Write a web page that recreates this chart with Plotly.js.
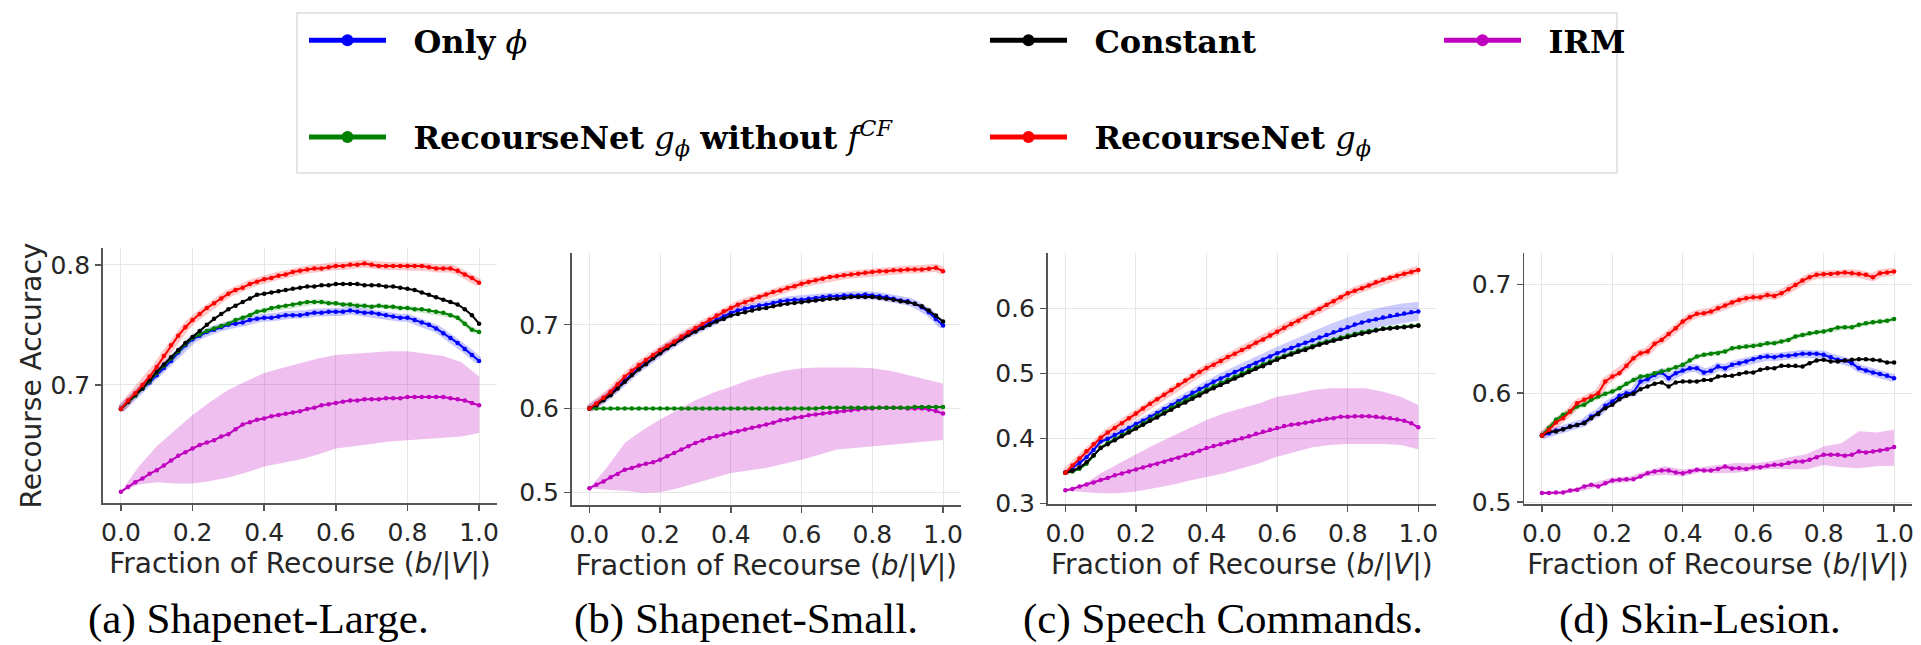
<!DOCTYPE html>
<html><head><meta charset="utf-8">
<script src="https://cdn.plot.ly/plotly-3.0.1.min.js"></script>
<style>html,body{margin:0;padding:0;background:#fff;} #chart{width:1921px;height:645px;}</style>
</head><body><div id="chart"></div>
<script>
// ---------- data ----------
const fractions = [0,0.02,0.04,0.06,0.08,0.1,0.12,0.14,0.16,0.18,0.2,0.22,0.24,0.26,0.28,0.3,0.32,0.34,0.36,0.38,0.4,0.42,0.44,0.46,0.48,0.5,0.52,0.54,0.56,0.58,0.6,0.62,0.64,0.66,0.68,0.7,0.72,0.74,0.76,0.78,0.8,0.82,0.84,0.86,0.88,0.9,0.92,0.94,0.96,0.98,1.0];
const bandFractions = [0,0.05,0.1,0.15,0.2,0.25,0.3,0.35,0.4,0.45,0.5,0.55,0.6,0.65,0.7,0.75,0.8,0.85,0.9,0.95,1.0];
const xTickVals = [0,0.2,0.4,0.6,0.8,1.0];
const xTickText = ['0.0','0.2','0.4','0.6','0.8','1.0'];
const seriesNames = ['<b>Only</b> <i>ϕ</i>','<b>Constant</b>','<b>IRM</b>','<b>RecourseNet</b> <i>g</i><sub><i>ϕ</i></sub> <b>without</b> <i>f</i><sup><i>CF</i></sup>','<b>RecourseNet</b> <i>g</i><sub><i>ϕ</i></sub>'];
const captions = ['(a) Shapenet-Large.','(b) Shapenet-Small.','(c) Speech Commands.','(d) Skin-Lesion.'];
const xAxisTitle = 'Fraction of Recourse (<i>b</i>/|<i>V</i>|)';
const yAxisTitle = 'Recourse Accuracy';

// (a) Shapenet-Large
const s1OnlyPhi = [.680,.686,.691,.697,.702,.708,.714,.720,.727,.733,.738,.741,.744,.746,.748,.750,.751,.752,.754,.755,.756,.756,.757,.758,.758,.758,.759,.760,.760,.761,.761,.761,.762,.761,.760,.760,.759,.758,.757,.756,.756,.754,.752,.750,.747,.743,.739,.735,.730,.725,.720];
const s1Constant = [.680,.686,.692,.697,.704,.711,.717,.723,.729,.735,.740,.745,.750,.755,.759,.763,.766,.769,.772,.775,.776,.777,.778,.779,.780,.781,.782,.782,.783,.783,.784,.784,.784,.784,.783,.783,.783,.782,.782,.781,.780,.779,.777,.775,.773,.771,.769,.767,.763,.758,.751];
const s1IRM = [.611,.615,.619,.622,.626,.629,.633,.637,.641,.644,.647,.650,.652,.654,.657,.659,.663,.667,.669,.671,.672,.674,.675,.676,.677,.678,.680,.681,.683,.684,.685,.686,.687,.687,.688,.688,.688,.689,.689,.689,.690,.690,.690,.690,.690,.690,.689,.688,.687,.685,.683];
const s1NoCF = [.680,.686,.691,.697,.703,.710,.716,.722,.728,.734,.739,.742,.745,.747,.749,.751,.754,.756,.758,.761,.762,.764,.765,.766,.767,.768,.769,.769,.769,.768,.768,.767,.767,.766,.766,.765,.766,.765,.765,.764,.764,.763,.763,.762,.761,.760,.758,.756,.751,.746,.744];
const s1RecNet = [.680,.687,.693,.700,.707,.715,.724,.733,.741,.748,.754,.759,.764,.768,.772,.776,.779,.781,.784,.786,.788,.789,.791,.792,.794,.795,.796,.797,.797,.798,.799,.799,.800,.800,.801,.800,.799,.799,.799,.799,.799,.799,.799,.798,.797,.797,.797,.795,.792,.789,.785];
const s1IRMUpper = [.611,.632,.649,.662,.675,.686,.696,.703,.710,.714,.718,.722,.725,.726,.727,.728,.728,.726,.724,.719,.707];
const s1IRMLower = [.611,.617,.619,.618,.618,.620,.623,.627,.632,.635,.638,.642,.647,.649,.651,.653,.654,.655,.656,.657,.660];

// (b) Shapenet-Small
const s2OnlyPhi = [.600,.605,.611,.618,.626,.634,.641,.648,.654,.661,.667,.673,.678,.684,.689,.693,.698,.702,.706,.710,.714,.717,.719,.721,.723,.724,.726,.728,.729,.730,.730,.731,.732,.733,.734,.734,.735,.735,.735,.736,.735,.734,.733,.731,.729,.728,.725,.721,.715,.707,.699];
const s2Constant = [.600,.604,.610,.616,.624,.632,.640,.647,.653,.660,.666,.672,.677,.683,.688,.692,.696,.700,.704,.707,.711,.713,.715,.717,.719,.720,.722,.724,.725,.726,.727,.728,.729,.730,.731,.731,.732,.733,.733,.733,.733,.732,.731,.730,.728,.727,.725,.722,.717,.711,.704];
const s2IRM = [.505,.509,.513,.518,.522,.527,.529,.532,.534,.536,.539,.543,.547,.551,.555,.559,.562,.565,.567,.569,.571,.573,.575,.577,.579,.581,.583,.586,.587,.589,.590,.592,.593,.594,.595,.596,.597,.598,.599,.600,.600,.601,.601,.601,.601,.600,.600,.600,.599,.597,.594];
const s2NoCF = [.600,.600,.600,.600,.600,.600,.600,.600,.600,.600,.600,.600,.600,.600,.600,.600,.600,.600,.600,.600,.600,.600,.600,.600,.600,.600,.600,.600,.600,.600,.600,.600,.600,.601,.601,.601,.601,.601,.601,.601,.601,.601,.601,.601,.601,.601,.602,.602,.602,.602,.602];
const s2RecNet = [.600,.606,.613,.620,.629,.638,.645,.652,.658,.664,.670,.675,.680,.686,.691,.696,.701,.706,.711,.716,.720,.724,.727,.730,.733,.736,.739,.741,.744,.746,.749,.751,.753,.755,.757,.758,.759,.760,.761,.762,.763,.764,.764,.765,.765,.766,.766,.766,.767,.768,.764];
const s2IRMUpper = [.505,.530,.559,.574,.587,.599,.610,.619,.626,.634,.640,.645,.648,.649,.649,.649,.648,.645,.640,.635,.630];
const s2IRMLower = [.505,.503,.502,.4995,.500,.505,.511,.517,.523,.526,.529,.534,.539,.545,.551,.553,.555,.557,.559,.561,.5625];

// (c) Speech Commands
const s3OnlyPhi = [.347,.354,.362,.371,.382,.395,.399,.405,.410,.416,.422,.427,.433,.439,.445,.451,.457,.463,.470,.476,.481,.487,.492,.497,.502,.506,.511,.516,.521,.526,.531,.535,.539,.543,.547,.551,.555,.559,.563,.567,.571,.575,.578,.581,.583,.586,.588,.590,.592,.594,.595];
const s3Constant = [.347,.350,.355,.363,.374,.385,.391,.397,.403,.409,.415,.421,.427,.432,.438,.444,.450,.455,.461,.466,.472,.477,.482,.487,.492,.497,.502,.507,.511,.516,.521,.525,.529,.533,.536,.540,.544,.547,.550,.553,.556,.559,.561,.563,.566,.568,.569,.570,.571,.572,.573];
const s3IRM = [.320,.322,.326,.329,.332,.336,.339,.343,.346,.349,.352,.355,.358,.361,.364,.367,.370,.374,.377,.381,.385,.388,.391,.394,.397,.400,.403,.407,.410,.413,.416,.419,.421,.422,.424,.426,.428,.430,.431,.433,.433,.434,.434,.434,.433,.432,.431,.429,.427,.423,.417];
const s3NoCF = [.347,.349,.353,.361,.373,.386,.393,.399,.405,.411,.417,.423,.429,.435,.441,.447,.453,.458,.464,.469,.475,.480,.485,.490,.495,.500,.505,.509,.514,.518,.523,.527,.531,.535,.538,.542,.546,.549,.552,.555,.558,.561,.563,.565,.567,.569,.570,.571,.572,.573,.574];
const s3RecNet = [.347,.358,.369,.380,.391,.401,.409,.416,.423,.431,.438,.446,.453,.460,.467,.474,.482,.489,.496,.502,.508,.513,.519,.525,.530,.536,.541,.547,.552,.558,.564,.570,.576,.581,.587,.593,.599,.605,.611,.617,.623,.627,.631,.635,.640,.644,.647,.650,.653,.656,.659];
const s3IRMUpper = [.3195,.328,.3462,.3605,.3744,.3897,.4026,.4154,.4282,.4385,.4462,.4538,.4641,.4682,.4744,.4769,.4769,.4769,.4718,.4641,.4513];
const s3IRMLower = [.3195,.318,.3154,.3154,.318,.323,.3282,.3349,.341,.3462,.3538,.3615,.3718,.3795,.3862,.3897,.3913,.3913,.3913,.3897,.3831];
const s3OnlyPhiUpper = [.349,.370,.399,.413,.427,.442,.458,.474,.489,.503,.515,.528,.541,.553,.564,.576,.586,.595,.602,.607,.610];
const s3OnlyPhiLower = [.345,.363,.391,.403,.416,.430,.445,.460,.473,.487,.498,.509,.521,.530,.540,.549,.557,.566,.572,.577,.581];

// (d) Skin-Lesion
const s4OnlyPhi = [.5612,.5633,.5657,.5670,.5694,.5709,.5731,.5786,.5817,.5884,.5924,.5976,.6000,.6006,.6107,.6128,.6168,.6190,.6138,.6183,.6208,.6229,.6229,.6190,.6205,.6245,.6229,.6260,.6275,.6291,.6312,.6330,.6336,.6330,.6343,.6343,.6352,.6361,.6361,.6361,.6352,.6330,.6306,.6300,.6275,.6229,.6208,.6190,.6177,.6159,.6138];
const s4Constant = [.5612,.5648,.5648,.5670,.5694,.5709,.5725,.5771,.5810,.5862,.5893,.5945,.5976,.5994,.6037,.6061,.6086,.6098,.6061,.6098,.6107,.6107,.6107,.6122,.6122,.6153,.6159,.6159,.6177,.6190,.6190,.6214,.6229,.6229,.6251,.6251,.6251,.6245,.6275,.6300,.6306,.6291,.6291,.6300,.6306,.6312,.6312,.6306,.6300,.6281,.6281];
const s4IRM = [.5083,.5083,.5089,.5089,.5107,.5113,.5144,.5159,.5144,.5174,.5199,.5205,.5211,.5211,.5235,.5266,.5281,.5291,.5291,.5272,.5266,.5281,.5297,.5291,.5291,.5303,.5327,.5309,.5312,.5303,.5321,.5321,.5333,.5343,.5343,.5358,.5373,.5373,.5388,.5413,.5434,.5434,.5434,.5425,.5434,.5465,.5456,.5465,.5474,.5486,.5505];
const s4NoCF = [.5612,.5680,.5755,.5801,.5832,.5878,.5893,.5939,.5969,.5994,.6015,.6046,.6086,.6122,.6153,.6159,.6183,.6199,.6214,.6239,.6260,.6300,.6336,.6352,.6361,.6367,.6382,.6413,.6422,.6428,.6434,.6443,.6459,.6459,.6474,.6489,.6520,.6535,.6550,.6559,.6566,.6581,.6602,.6606,.6606,.6627,.6642,.6651,.6657,.6664,.6682];
const s4RecNet = [.5612,.5664,.5731,.5771,.5832,.5908,.5939,.5969,.6000,.6107,.6153,.6183,.6251,.6321,.6367,.6382,.6453,.6489,.6544,.6596,.6657,.6697,.6728,.6734,.6749,.6780,.6804,.6832,.6856,.6872,.6881,.6881,.6902,.6893,.6917,.6954,.6994,.7034,.7064,.7086,.7092,.7095,.7101,.7107,.7101,.7095,.7086,.7064,.7101,.7107,.7116];
const s4IRMUpper = [.5095,.5100,.5135,.5180,.5225,.5235,.5290,.5330,.5300,.5320,.5340,.5360,.5355,.5375,.5410,.5440,.5510,.5540,.5650,.5640,.5665];
const s4IRMLower = [.5070,.5075,.5090,.5130,.5170,.5185,.5240,.5250,.5235,.5275,.5265,.5270,.5285,.5305,.5305,.5300,.5340,.5320,.5310,.5330,.5335];

// ---------- style ----------
const colors = {onlyPhi:'#0000ff', constant:'#000000', irm:'#bf00bf', noCF:'#008000', recNet:'#ff0000'};
const bandColors = {onlyPhi:'rgba(0,0,255,0.2)', irm:'rgba(191,0,191,0.25)'};
const haloColors = {onlyPhi:'rgba(0,0,255,0.22)', noCF:'rgba(0,128,0,0.18)', recNet:'rgba(255,0,0,0.22)'};
const legendTextPad = '\u2002\u2009';

const panels = [
  {x:'x', y:'y', onlyPhi:s1OnlyPhi, constant:s1Constant, irm:s1IRM, noCF:s1NoCF, recNet:s1RecNet,
   bands:[{key:'irm', up:s1IRMUpper, lo:s1IRMLower}], halos:['onlyPhi','noCF','recNet']},
  {x:'x2', y:'y2', onlyPhi:s2OnlyPhi, constant:s2Constant, irm:s2IRM, noCF:s2NoCF, recNet:s2RecNet,
   bands:[{key:'irm', up:s2IRMUpper, lo:s2IRMLower}], halos:['onlyPhi','recNet']},
  {x:'x3', y:'y3', onlyPhi:s3OnlyPhi, constant:s3Constant, irm:s3IRM, noCF:s3NoCF, recNet:s3RecNet,
   bands:[{key:'irm', up:s3IRMUpper, lo:s3IRMLower},{key:'onlyPhi', up:s3OnlyPhiUpper, lo:s3OnlyPhiLower}], halos:['recNet']},
  {x:'x4', y:'y4', onlyPhi:s4OnlyPhi, constant:s4Constant, irm:s4IRM, noCF:s4NoCF, recNet:s4RecNet,
   bands:[{key:'irm', up:s4IRMUpper, lo:s4IRMLower}], halos:['onlyPhi','noCF','recNet']}
];

const seriesOrder = [
  {key:'irm', name:seriesNames[2], legend:'legend3'},
  {key:'onlyPhi', name:seriesNames[0], legend:'legend'},
  {key:'noCF', name:seriesNames[3], legend:'legend'},
  {key:'constant', name:seriesNames[1], legend:'legend2'},
  {key:'recNet', name:seriesNames[4], legend:'legend2'}
];
const legendRank = {onlyPhi:1, noCF:2, constant:1, recNet:2, irm:1};

const traces = [];
panels.forEach((p, pi) => {
  p.bands.forEach(b => {
    traces.push({type:'scatter', mode:'lines', x:bandFractions, y:b.lo, xaxis:p.x, yaxis:p.y,
      line:{width:0, color:bandColors[b.key]}, showlegend:false, hoverinfo:'skip'});
    traces.push({type:'scatter', mode:'lines', x:bandFractions, y:b.up, xaxis:p.x, yaxis:p.y,
      line:{width:0, color:bandColors[b.key]}, fill:'tonexty', fillcolor:bandColors[b.key], showlegend:false, hoverinfo:'skip'});
  });
  p.halos.forEach(k => {
    traces.push({type:'scatter', mode:'lines', x:fractions, y:p[k], xaxis:p.x, yaxis:p.y,
      line:{width:k==='noCF'?5:8, color:haloColors[k]}, showlegend:false, hoverinfo:'skip'});
  });
});
panels.forEach((p, pi) => {
  seriesOrder.forEach(s => {
    traces.push({type:'scatter', mode:'lines+markers', x:fractions, y:p[s.key], xaxis:p.x, yaxis:p.y,
      name:legendTextPad + s.name, legend:s.legend, legendgroup:s.key, legendrank:legendRank[s.key],
      showlegend: pi===0,
      line:{color:colors[s.key], width:2}, marker:{color:colors[s.key], size:4.5}, hoverinfo:'skip'});
  });
});

// ---------- layout ----------
const W = 1921, H = 645;
const px = v => v / W;
const py = v => 1 - v / H;
const tickFont = {family:'DejaVu Sans', size:25, color:'#262626'};
function xAx(l, r, anchor){
  return {domain:[px(l), px(r)], anchor:anchor, range:[-0.05, 1.05], tickmode:'array', tickvals:xTickVals, ticktext:xTickText,
    showline:true, linecolor:'#555', linewidth:1.8, ticks:'outside', ticklen:6, tickwidth:1.4, tickcolor:'#555',
    showgrid:true, gridcolor:'#e6e6e6', gridwidth:1, zeroline:false, tickfont:tickFont, fixedrange:true,
    title:{text:xAxisTitle, font:{family:'DejaVu Sans', size:28, color:'#262626'}, standoff:0}};
}
function yAx(b, t, anchor, range, withTitle){
  const a = {domain:[py(b), py(t)], anchor:anchor, range:range, dtick:0.1, tick0:0, tickformat:'.1f',
    showline:true, linecolor:'#555', linewidth:1.8, ticks:'outside', ticklen:6, tickwidth:1.4, tickcolor:'#555',
    showgrid:true, gridcolor:'#e6e6e6', gridwidth:1, zeroline:false, tickfont:tickFont, fixedrange:true};
  if (withTitle) a.title = {text:yAxisTitle, font:{family:'DejaVu Sans', size:28, color:'#262626'}, standoff:1};
  return a;
}
const legendBase = {orientation:'v', xanchor:'left', yanchor:'top', y:py(13), bgcolor:'rgba(0,0,0,0)', borderwidth:0,
  font:{family:'DejaVu Serif', size:32, color:'#000'}, itemwidth:77, tracegroupgap:52, itemsizing:'constant',
  itemclick:false, itemdoubleclick:false, traceorder:'grouped'};

const layout = {
  width:W, height:H, margin:{l:0, r:0, t:0, b:0}, paper_bgcolor:'#fff', plot_bgcolor:'#fff',
  font:{family:'DejaVu Sans', color:'#262626'},
  xaxis: xAx(103, 497, 'y'),   yaxis: yAx(503, 248, 'x', [0.6017, 0.814], true),
  xaxis2: xAx(571.7, 960.7, 'y2'), yaxis2: yAx(505, 253.3, 'x2', [0.4849, 0.7853], false),
  xaxis3: xAx(1047.7, 1436, 'y3'), yaxis3: yAx(504.3, 253.3, 'x3', [0.2985, 0.6846], false),
  xaxis4: xAx(1524.3, 1911.7, 'y4'), yaxis4: yAx(504.3, 253.3, 'x4', [0.498, 0.7284], false),
  legend: Object.assign({}, legendBase, {x:px(304)}),
  legend2: Object.assign({}, legendBase, {x:px(985)}),
  legend3: Object.assign({}, legendBase, {x:px(1439)}),
  shapes:[{type:'rect', xref:'paper', yref:'paper', x0:px(297), x1:px(1617), y0:py(173), y1:py(13),
    line:{color:'#dddddd', width:1.5}, fillcolor:'rgba(0,0,0,0)', layer:'below'}],
  annotations: captions.map((c, i) => ({text:c, xref:'paper', yref:'paper', x:px([258, 746, 1223, 1700][i]), y:py(619),
    xanchor:'center', yanchor:'middle', showarrow:false, font:{family:'Liberation Serif', size:43, color:'#000'}}))
};

Plotly.newPlot('chart', traces, layout, {staticPlot:true, displayModeBar:false});
</script>
</body></html>
